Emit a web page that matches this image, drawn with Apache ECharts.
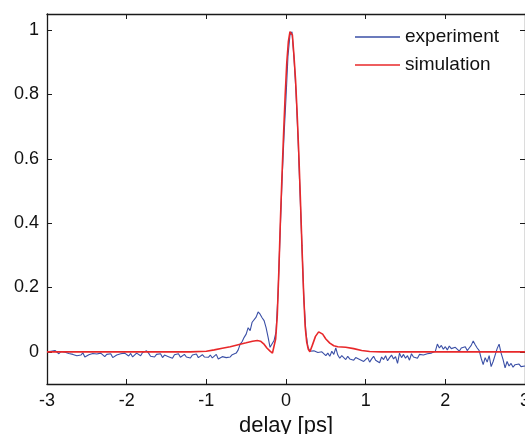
<!DOCTYPE html>
<html>
<head>
<meta charset="utf-8">
<script src="https://cdn.jsdelivr.net/npm/echarts@6/dist/echarts.min.js"></script>
<style>
html,body{margin:0;padding:0;background:#fff;}
#c{width:525px;height:434px;}
</style>
</head>
<body>
<div id="c"></div>
<script>
// experiment: uniform delay grid starting at -3 ps, 0.025 ps step
const expStart = -3.0;
const expStep = 0.025;
const expY = [
  0.000, -0.004, 0.002, -0.003, 0.004, -0.002, -0.006, 0.001, 0.006, -0.001,
  0.003, -0.005, -0.002, -0.008, -0.004, -0.012, -0.006, -0.010, -0.003, -0.016,
  -0.022, -0.009, -0.014, -0.005, -0.011, -0.007, -0.013, -0.004, -0.009, -0.015,
  -0.008, -0.012, -0.006, -0.018, -0.024, -0.010, -0.014, -0.006, -0.011, -0.004,
  -0.008, -0.013, -0.005, -0.016, -0.010, -0.004, -0.009, -0.012, -0.002, -0.006,
  0.003, -0.004, -0.014, -0.011, -0.016, -0.008, -0.013, -0.006, -0.018, -0.010,
  -0.007, -0.015, -0.012, -0.020, -0.009, -0.014, -0.006, -0.017, -0.011, -0.008,
  -0.016, -0.012, -0.019, -0.010, -0.014, -0.007, -0.018, -0.013, -0.009, -0.016,
  -0.012, -0.017, -0.010, -0.019, -0.014, -0.008, -0.022, -0.026, -0.015, -0.011,
  -0.018, -0.013, -0.016, -0.009, -0.012, -0.004, 0.006, 0.024, 0.032, 0.045,
  0.055, 0.075, 0.066, 0.092, 0.088, 0.108, 0.124, 0.117, 0.106, 0.097,
  0.075, 0.046, 0.014, 0.010, 0.035, 0.062, 0.180, 0.360, 0.530, 0.670,
  0.790, 0.920, 0.985, 0.995, 0.915, 0.810, 0.670, 0.500, 0.330, 0.160,
  0.060, 0.015, 0.002, 0.004, 0.003, 0.006, -0.002, -0.008, 0.000, -0.006,
  -0.012, -0.004, -0.014, 0.002, -0.008, 0.012, -0.010, -0.020, -0.012, -0.018,
  -0.024, -0.014, -0.022, -0.016, -0.026, -0.018, -0.012, -0.024, -0.020, -0.030,
  -0.028, -0.018, -0.032, -0.022, -0.014, -0.026, -0.020, -0.034, -0.016, -0.024,
  -0.012, -0.028, -0.018, -0.010, -0.022, -0.015, -0.036, -0.004, -0.018, -0.008,
  -0.020, -0.012, -0.026, -0.006, -0.016, -0.010, -0.020, -0.008, -0.014, -0.010,
  -0.012, -0.006, -0.009, -0.004, -0.006, 0.002, 0.024, 0.012, 0.020, 0.008,
  0.016, 0.006, 0.018, 0.010, 0.004, 0.014, 0.008, 0.002, 0.012, 0.006,
  0.016, 0.004, 0.012, 0.020, 0.034, 0.022, 0.012, 0.004, -0.020, -0.040,
  -0.018, -0.032, -0.012, -0.046, -0.030, -0.010, 0.010, 0.024, -0.004, -0.024,
  -0.050, -0.030, -0.044, -0.036, -0.048, -0.040, -0.045, -0.038, -0.046, -0.042,
  -0.044
];

// simulation
const simX = [-3.0, -1.2, -1.0, -0.9, -0.8, -0.7, -0.6, -0.5, -0.42, -0.36, -0.32, -0.28, -0.24, -0.2, -0.17, -0.15,
  -0.13, -0.11, -0.09, -0.07, -0.05, -0.03, -0.01, 0.01, 0.03, 0.05, 0.065, 0.08, 0.10, 0.12, 0.14, 0.16, 0.18,
  0.20, 0.22, 0.24, 0.26, 0.28, 0.30, 0.33, 0.37, 0.41, 0.43, 0.46, 0.50, 0.55, 0.60, 0.65, 0.75, 0.85, 0.95,
  1.05, 1.2, 3.0];
const simY = [0.0, 0.0, 0.002, 0.006, 0.011, 0.016, 0.022, 0.028, 0.033, 0.035, 0.033, 0.025, 0.012, 0.002, -0.004, 0.0,
  0.04, 0.11, 0.25, 0.41, 0.55, 0.68, 0.80, 0.90, 0.965, 0.995, 1.0, 0.985, 0.92, 0.845, 0.74, 0.62, 0.48,
  0.33, 0.19, 0.08, 0.03, 0.008, 0.0, 0.02, 0.048, 0.062, 0.063, 0.055, 0.04, 0.027, 0.019, 0.016, 0.014, 0.01, 0.004,
  0.001, 0.0, 0.0];

const xTicks = [-3, -2, -1, 0, 1, 2, 3];
const yTicks = [0, 0.2, 0.4, 0.6, 0.8, 1];
const seriesNames = ['experiment', 'simulation'];

const expData = expY.map((v, i) => [+(expStart + i * expStep).toFixed(3), v]);
const simData = simX.map((x, i) => [x, simY[i]]);

const FONT = 'Liberation Sans, Arial, Helvetica, sans-serif';
const AX = '#1a1a1a';

const chart = echarts.init(document.getElementById('c'), null, {renderer: 'canvas'});
chart.setOption({
  animation: false,
  backgroundColor: '#ffffff',
  grid: {left: 47, right: 0, top: 14, bottom: 50, containLabel: false, outerBoundsMode: 'none'},
  legend: {
    orient: 'vertical',
    left: 355,
    top: 27,
    padding: 0,
    icon: 'rect',
    itemWidth: 45,
    itemHeight: 1.5,
    itemGap: 8,
    data: seriesNames,
    textStyle: {fontFamily: FONT, fontSize: 19, color: '#111', lineHeight: 20},
    selectedMode: false
  },
  xAxis: [{
    type: 'value', min: -3, max: 3, interval: 1, position: 'bottom',
    axisLine: {show: true, onZero: false, lineStyle: {color: AX, width: 1.3}},
    axisTick: {show: true, inside: true, length: 5, lineStyle: {color: AX}},
    axisLabel: {show: true, margin: 8, fontFamily: FONT, fontSize: 18, color: '#111',
      customValues: xTicks},
    splitLine: {show: false},
    name: 'delay [ps]', nameLocation: 'middle', nameGap: 29,
    nameTextStyle: {fontFamily: FONT, fontSize: 22, color: '#111'}
  }, {
    type: 'value', min: -3, max: 3, interval: 1, position: 'top',
    axisLine: {show: true, onZero: false, lineStyle: {color: AX, width: 1.3}},
    axisTick: {show: true, inside: true, length: 5, lineStyle: {color: AX}},
    axisLabel: {show: false},
    splitLine: {show: false}
  }],
  yAxis: [{
    type: 'value', min: -0.1, max: 1.05, position: 'left',
    axisLine: {show: true, onZero: false, lineStyle: {color: AX, width: 1.3}},
    axisTick: {show: true, inside: true, length: 5, lineStyle: {color: AX}, customValues: yTicks},
    axisLabel: {show: true, margin: 8, fontFamily: FONT, fontSize: 18, color: '#111', customValues: yTicks},
    splitLine: {show: false}
  }, {
    type: 'value', min: -0.1, max: 1.05, position: 'right',
    axisLine: {show: true, onZero: false, lineStyle: {color: AX, width: 1.3}},
    axisTick: {show: true, inside: true, length: 5, lineStyle: {color: AX}, customValues: yTicks},
    axisLabel: {show: false},
    splitLine: {show: false}
  }],
  series: [{
    name: seriesNames[0], type: 'line', data: expData, showSymbol: false, symbol: 'none',
    xAxisIndex: 0, yAxisIndex: 0,
    itemStyle: {color: '#3a4fa6'},
    lineStyle: {color: '#3a4fa6', width: 1.1}
  }, {
    name: seriesNames[1], type: 'line', data: simData, showSymbol: false, symbol: 'none',
    xAxisIndex: 0, yAxisIndex: 0,
    itemStyle: {color: '#e8282a'},
    lineStyle: {color: '#e8282a', width: 1.6}
  }]
});
</script>
</body>
</html>
